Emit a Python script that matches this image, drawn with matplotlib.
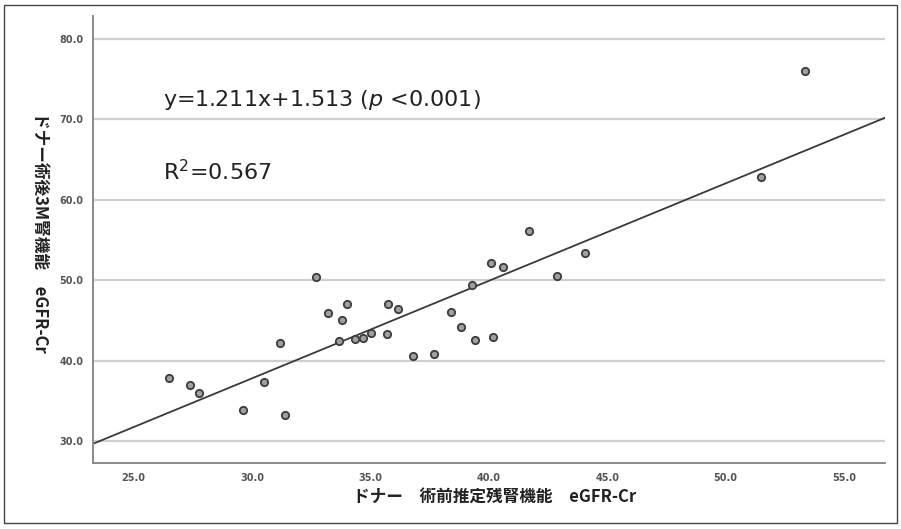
import matplotlib
matplotlib.use("Agg")
import matplotlib.pyplot as plt
from matplotlib.patches import Rectangle
import numpy as np

# Data
pre_egfr = [26.50, 27.39, 27.78, 29.64, 30.51, 31.20, 31.39, 32.71, 33.20, 33.67,
            33.82, 34.02, 34.34, 34.68, 35.02, 35.73, 35.72, 36.18, 36.80, 37.69,
            38.42, 38.83, 39.27, 39.43, 40.11, 40.17, 40.59, 41.69, 42.90, 44.08,
            51.50, 53.37]
post_egfr = [37.85, 37.06, 36.06, 33.91, 37.35, 42.20, 33.25, 50.47, 45.93, 42.52,
             45.09, 47.04, 42.77, 42.89, 43.52, 47.12, 43.32, 46.50, 40.62, 40.83,
             46.12, 44.22, 49.44, 42.61, 52.14, 42.94, 51.64, 56.19, 50.52, 53.42,
             62.89, 75.99]
slope = 1.211
intercept = 1.513
x_ticks = [25.0, 30.0, 35.0, 40.0, 45.0, 50.0, 55.0]
y_ticks = [30.0, 40.0, 50.0, 60.0, 70.0, 80.0]
x_label = "ドナー　術前推定残腎機能　eGFR-Cr"
y_label = "ドナー術後3M腎機能　eGFR-Cr"
eq_text = r"y=1.211x+1.513 ($\mathit{p}$ <0.001)"
r2_text = r"R$^{2}$=0.567"

plt.rcParams['mathtext.fontset'] = 'dejavusans'
jp = ['Noto Sans CJK JP', 'DejaVu Sans']

fig = plt.figure(figsize=(9.01, 5.29), dpi=100)
fig.patches.append(Rectangle((0.004, 0.012), 0.992, 0.978, transform=fig.transFigure,
                             fill=False, edgecolor='#444444', linewidth=1.0))

ax = fig.add_axes([0.1036, 0.1242, 0.8786, 0.8456])
xmin, xmax = 23.30, 56.73
ax.set_xlim(xmin, xmax)
ax.set_ylim(27.29, 82.86)

for yv in y_ticks:
    ax.axhline(yv, color='#cfcfcf', linewidth=1.6, zorder=1)

xs = np.array([xmin, xmax])
ax.plot(xs, slope * xs + intercept, color='#3a3a3a', linewidth=1.3, zorder=2)

ax.scatter(pre_egfr, post_egfr, s=28, facecolor='#a0a0a0', edgecolor='#3c3c3c',
           linewidths=1.3, zorder=3)

ax.set_xticks(x_ticks)
ax.set_yticks(y_ticks)
ax.set_xticklabels([f"{v:.1f}" for v in x_ticks])
ax.set_yticklabels([f"{v:.1f}" for v in y_ticks])
ax.tick_params(length=0, labelsize=7, colors='#555555', pad=7)
for lab in ax.get_xticklabels() + ax.get_yticklabels():
    lab.set_fontweight('bold')

for s in ['top', 'right']:
    ax.spines[s].set_visible(False)
for s in ['left', 'bottom']:
    ax.spines[s].set_color('#8a8a8a')
    ax.spines[s].set_linewidth(1.4)

fig.text(495 / 901, 1 - 497 / 529, x_label, family=jp, fontweight='bold', fontsize=12,
         color='#222222', ha='center', va='center')
fig.text(40 / 901, 1 - 232 / 529, y_label, family=jp, fontweight='bold', fontsize=12,
         color='#222222', rotation=270, ha='center', va='center')

ax.text(0.088, 0.812, eq_text, transform=ax.transAxes, fontsize=16,
        color='#222222', va='center', ha='left')
ax.text(0.088, 0.653, r2_text, transform=ax.transAxes, fontsize=16,
        color='#222222', va='center', ha='left')

fig.savefig("out.png", dpi=100)
